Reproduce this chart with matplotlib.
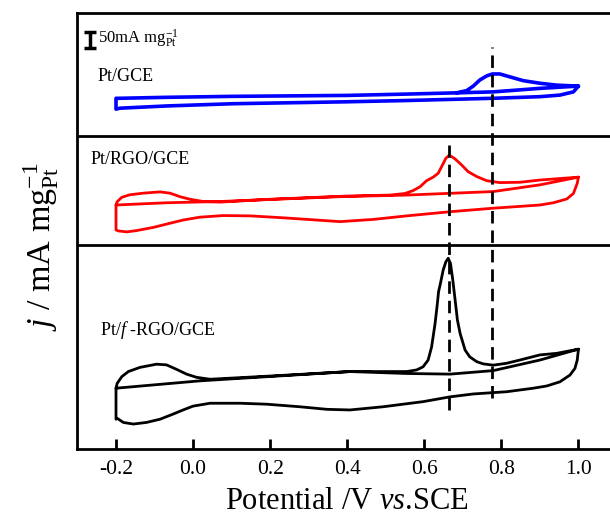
import matplotlib
matplotlib.use('Agg')
import matplotlib.pyplot as plt

plt.rcParams['font.family'] = 'Liberation Serif'
plt.rcParams['mathtext.fontset'] = 'custom'
plt.rcParams['mathtext.rm'] = 'Liberation Serif'
plt.rcParams['mathtext.it'] = 'Liberation Serif:italic'

# Current density j (mA mg_Pt^-1) vs potential E (V vs. SCE).
# Each trace is one continuous path: return scan with peak, lower branch, then the
# straight branch back to -0.2 V. j is measured from the bottom of its own panel.
E_gce = [1.0, 0.944, 0.900, 0.857, 0.822, 0.796, 0.777, 0.762, 0.744, 0.727, 0.710, 0.684,
         0.55, 0.40, 0.10, -0.07, -0.19, -0.20,
         -0.20, -0.19, -0.069, 0.104, 0.398, 0.554, 0.779, 0.90, 0.952, 0.987, 1.0,
         0.90, 0.779, 0.684]
j_gce = [156, 159, 165, 173, 185, 194, 194, 188, 175, 156, 142, 135,
         131, 127, 124, 121, 118, 118,
         84, 87, 94, 101, 107, 111, 118, 123, 128, 138, 156,
         149, 138, 135]

E_rgo = [1.0, 0.944, 0.900, 0.848, 0.796, 0.762, 0.736, 0.714, 0.697, 0.680, 0.665, 0.656, 0.645, 0.636,
         0.623, 0.606, 0.589, 0.571, 0.550, 0.511, 0.40, 0.20, 0.070,
         0.026, -0.008, -0.034, -0.060, -0.086, -0.129, -0.164, -0.185, -0.197, -0.20,
         -0.20, -0.194, -0.172, -0.147, -0.103, -0.060, -0.026, 0.018, 0.078, 0.148, 0.234, 0.321, 0.381,
         0.468, 0.554, 0.667, 0.779, 0.840, 0.900, 0.935, 0.970, 0.987, 0.997, 1.0,
         0.90, 0.779, 0.554, 0.381, 0.070, -0.069, -0.20]
j_rgo = [212, 207, 203, 196, 195, 201, 214, 229, 250, 269, 281, 271, 245, 224,
         212, 201, 182, 170, 161, 156, 153, 143, 134,
         136, 143, 151, 162, 166, 162, 157, 149, 135, 125,
         47, 44, 41, 45, 55, 68, 78, 87, 92, 91, 85, 78, 73,
         80, 91, 104, 115, 120, 125, 132, 144, 161, 193, 212,
         188, 167, 156, 151, 136, 132, 125]

E_frgo = [1.0, 0.944, 0.900, 0.848, 0.814, 0.779, 0.753, 0.736, 0.718, 0.706, 0.693, 0.686, 0.680,
          0.674, 0.668, 0.662, 0.656, 0.649, 0.642, 0.637, 0.634, 0.628, 0.619, 0.610, 0.597,
          0.580, 0.554, 0.407, 0.20, 0.044,
          0.009, -0.017, -0.043, -0.069, -0.095, -0.138, -0.168, -0.185, -0.197, -0.20,
          -0.20, -0.197, -0.181, -0.155, -0.121, -0.086, -0.052, -0.026, 0.0, 0.044, 0.122, 0.191,
          0.277, 0.347, 0.407, 0.493, 0.597, 0.667, 0.727, 0.814, 0.883, 0.918, 0.952, 0.978,
          0.991, 0.997, 1.0,
          0.90, 0.779, 0.667, 0.554, 0.407, 0.018, -0.20]
j_frgo = [312, 299, 294, 278, 268, 262, 266, 273, 288, 309, 361, 403, 466,
          528, 580, 596, 585, 559, 518, 491, 455, 392, 319, 278, 257,
          247, 242, 242, 228, 218,
          224, 234, 249, 263, 265, 255, 242, 226, 205, 190,
          93, 96, 83, 78, 83, 93, 109, 122, 134, 143, 143, 140,
          132, 124, 122, 132, 148, 163, 172, 179, 190, 197, 210, 231,
          252, 278, 312,
          278, 245, 234, 236, 242, 213, 190]

labels = ['Pt/GCE', 'Pt/RGO/GCE', 'Pt/$f$ -RGO/GCE']
colors = ['#0000ff', '#ff0000', '#000000']
peak_E = [0.777, 0.665]
xticks = [-0.2, 0.0, 0.2, 0.4, 0.6, 0.8, 1.0]

# panel bottoms in the shared y scale
offsets = [978, 637.5, 0]
ytop = 1362.5

fig = plt.figure(figsize=(6.1, 5.18), dpi=100)
ax = fig.add_axes([0.127, 0.1332, 0.8844, 0.8417])

curves = [(E_gce, j_gce), (E_rgo, j_rgo), (E_frgo, j_frgo)]
widths = [2.6, 2.0, 2.0]
for (E, j), off, c, lw in zip(curves, offsets, colors, widths):
    ax.plot(E, [v + off for v in j], color=c, linewidth=lw,
            solid_joinstyle='round', solid_capstyle='round')

# panel separators
for off in offsets[:2]:
    ax.axhline(off, color='k', linewidth=2)

# peak position markers
ax.plot([peak_E[0]] * 2, [159, 1256], color='k', linewidth=2, dashes=(4.5, 2.5))
ax.plot([peak_E[1]] * 2, [122, 950], color='k', linewidth=2, dashes=(4.5, 2.5))

# panel labels
ax.text(-0.247, 1150, labels[0], fontsize=13, va='baseline')
ax.text(-0.265, 890, labels[1], fontsize=13, va='baseline')
ax.text(-0.242, 355, labels[2], fontsize=13, va='baseline')

# scale bar 50 mA mg^-1
ax.errorbar([-0.268], [1278], yerr=[25], color='k', elinewidth=2.5, capsize=4, capthick=2.5)
ax.text(-0.248, 1280, r'50mA mg$_{\rm Pt}^{-1}$', fontsize=12, va='center')

ax.set_xlim(-0.3, 1.1)
ax.set_ylim(0, ytop)
ax.set_xticks(xticks)
ax.set_xticklabels(['%.1f' % t for t in xticks])
ax.set_yticks([])
ax.tick_params(axis='x', direction='in', length=7, width=2, labelsize=15.5, pad=8)
for s in ax.spines.values():
    s.set_linewidth(2)

ax.set_xlabel(r'Potential /V $vs$.SCE', fontsize=22, labelpad=6)
ax.set_ylabel(r'$j$ / mA mg$_{\rm Pt}^{-1}$', fontsize=24.5)
ax.yaxis.set_label_coords(-0.03, 0.463)

fig.savefig('out.png', dpi=100)
